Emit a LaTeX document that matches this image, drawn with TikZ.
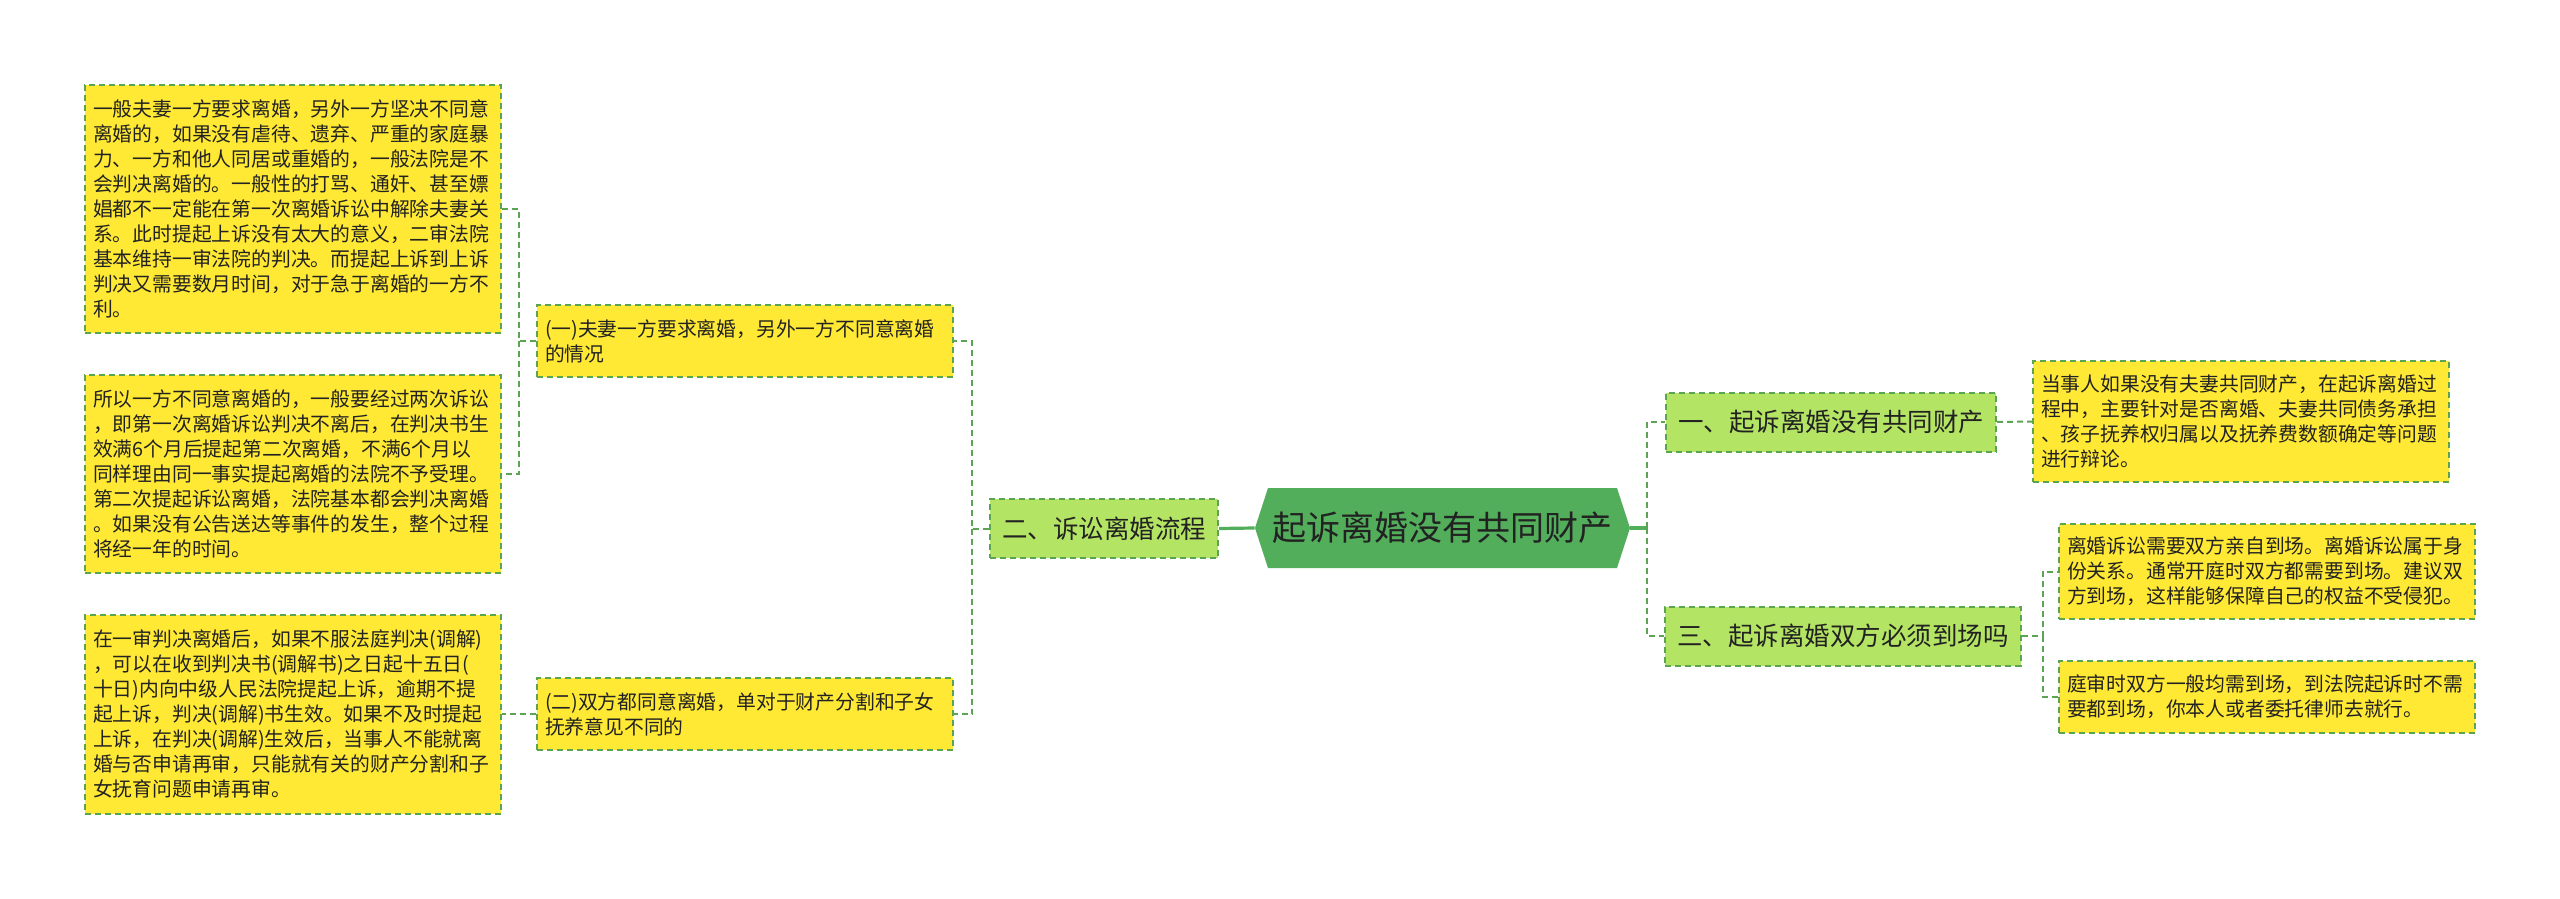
\documentclass[tikz,border=0pt]{standalone}
\usepackage{fontspec}
\setmainfont{Noto Sans CJK SC}
\usetikzlibrary{shapes.symbols}
\definecolor{leafyellow}{HTML}{FFE935}
\definecolor{edgegreen}{HTML}{5BA552}
\definecolor{branchgreen}{HTML}{B4E464}
\definecolor{centergreen}{HTML}{52AE5B}
\definecolor{inkdark}{HTML}{222222}
\tikzset{
  dashline/.style={draw=edgegreen, line width=1pt, dash pattern=on 3pt off 2pt},
  leafbox/.style={dashline, fill=leafyellow, text=inkdark, align=left, text width=200pt, inner xsep=4pt, inner ysep=0pt,
    font=\fontsize{9.9pt}{12.5pt}\selectfont},
  branchbox/.style={dashline, fill=branchgreen, text=inkdark, inner xsep=6pt, inner ysep=0pt, minimum height=29.5pt,
    font=\fontsize{12.75pt}{15pt}\selectfont},
  centerbox/.style={shape=signal, signal to=west and east, signal pointer angle=144, fill=centergreen,
    minimum width=187.5pt, minimum height=40pt, inner sep=0pt, text=inkdark, font=\fontsize{17pt}{20pt}\selectfont},
  conn/.style={dashline},
  solidconn/.style={draw=centergreen, line width=1.6pt},
}
\begin{document}
\begin{tikzpicture}[x=0.5pt,y=-0.5pt]
\useasboundingbox (0,0) rectangle (2560,899);

% central topic
\node[centerbox] (center) at (1442.5,528) {起诉离婚没有共同财产};

% left side
\node[branchbox] (b2) at (1104,528.5) {二、诉讼离婚流程};
\node[leafbox, minimum height=36pt] (s1) at (745,341) {(一)夫妻一方要求离婚，另外一方不同意离婚\\的情况};
\node[leafbox, minimum height=36pt] (s2) at (745,714) {(二)双方都同意离婚，单对于财产分割和子女\\抚养意见不同的};
\node[leafbox, minimum height=124pt] (l1) at (293,209) {一般夫妻一方要求离婚，另外一方坚决不同意\\离婚的，如果没有虐待、遗弃、严重的家庭暴\\力、一方和他人同居或重婚的，一般法院是不\\会判决离婚的。一般性的打骂、通奸、甚至嫖\\娼都不一定能在第一次离婚诉讼中解除夫妻关\\系。此时提起上诉没有太大的意义，二审法院\\基本维持一审法院的判决。而提起上诉到上诉\\判决又需要数月时间，对于急于离婚的一方不\\利。};
\node[leafbox, minimum height=99pt] (l2) at (293,474) {所以一方不同意离婚的，一般要经过两次诉讼\\，即第一次离婚诉讼判决不离后，在判决书生\\效满6个月后提起第二次离婚，不满6个月以\\同样理由同一事实提起离婚的法院不予受理。\\第二次提起诉讼离婚，法院基本都会判决离婚\\。如果没有公告送达等事件的发生，整个过程\\将经一年的时间。};
\node[leafbox, minimum height=99.5pt] (l3) at (293,714) {在一审判决离婚后，如果不服法庭判决(调解)\\，可以在收到判决书(调解书)之日起十五日(\\十日)内向中级人民法院提起上诉，逾期不提\\起上诉，判决(调解)书生效。如果不及时提起\\上诉，在判决(调解)生效后，当事人不能就离\\婚与否申请再审，只能就有关的财产分割和子\\女抚育问题申请再审。};

% right side
\node[branchbox] (b1) at (1831,422) {一、起诉离婚没有共同财产};
\node[branchbox] (b3) at (1843,636) {三、起诉离婚双方必须到场吗};
\node[leafbox, minimum height=60.5pt] (r1) at (2241,421.5) {当事人如果没有夫妻共同财产，在起诉离婚过\\程中，主要针对是否离婚、夫妻共同债务承担\\、孩子抚养权归属以及抚养费数额确定等问题\\进行辩论。};
\node[leafbox, minimum height=47.5pt] (r2) at (2267,571.5) {离婚诉讼需要双方亲自到场。离婚诉讼属于身\\份关系。通常开庭时双方都需要到场。建议双\\方到场，这样能够保障自己的权益不受侵犯。};
\node[leafbox, minimum height=36pt] (r3) at (2267,697) {庭审时双方一般均需到场，到法院起诉时不需\\要都到场，你本人或者委托律师去就行。};

% junction coordinates
\coordinate (jb2) at (972,528.5);
\coordinate (js1) at (519,341);
\coordinate (jc) at (1647,528);
\coordinate (jb3) at (2043,636);

% connectors
\draw[solidconn] (b2.east) -- (center.west);
\draw[conn] (b2.west) -- (jb2) |- (s1.east);
\draw[conn] (jb2) |- (s2.east);
\draw[conn] (s1.west) -- (js1) |- (l1.east);
\draw[conn] (js1) |- (l2.east);
\draw[conn] (s2.west) -- (l3.east);

\draw[solidconn] (center.east) -- (jc);
\draw[conn] (jc) |- (b1.west);
\draw[conn] (jc) |- (b3.west);
\draw[conn] (b1.east) -- (r1.west);
\draw[conn] (b3.east) -- (jb3) |- (r2.west);
\draw[conn] (jb3) |- (r3.west);
\end{tikzpicture}
\end{document}
